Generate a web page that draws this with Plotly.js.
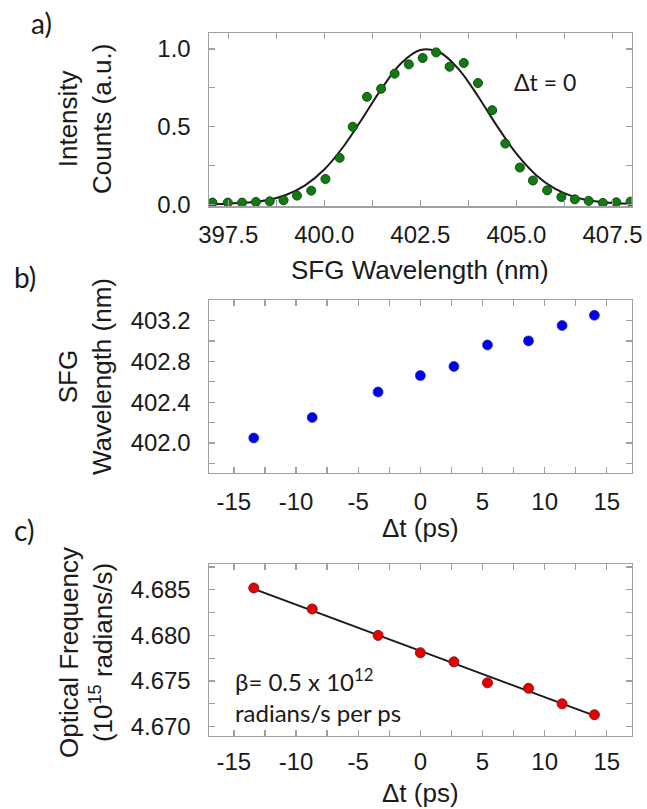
<!DOCTYPE html>
<html><head><meta charset="utf-8">
<script src="https://cdn.plot.ly/plotly-3.0.1.min.js"></script>
<style>html,body{margin:0;padding:0;background:#fff}#chart{width:647px;height:809px}</style>
</head><body><div id="chart"></div>
<script>
const specWavelength = [397.09,397.49,397.86,398.22,398.58,398.94,399.29,399.66,400.03,400.40,400.74,401.11,401.48,401.83,402.20,402.56,402.91,403.26,403.63,404.00,404.37,404.71,405.09,405.43,405.80,406.17,406.52,406.88,407.25,407.60,407.97];
const specIntensity  = [0.011,0.011,0.011,0.015,0.019,0.026,0.056,0.088,0.163,0.299,0.499,0.692,0.744,0.841,0.901,0.942,0.978,0.886,0.910,0.781,0.606,0.391,0.237,0.153,0.090,0.047,0.032,0.022,0.009,0.013,0.017];
// Panel a: fitted curve
const fitWavelength = [397.0,397.5,398.0,398.5,399.0,399.5,400.0,400.5,401.0,401.5,402.0,402.5,403.0,403.5,404.0,404.5,405.0,405.5,406.0,406.5,407.0,407.5,408.0];
const fitIntensity  = [0.001,0.004,0.011,0.026,0.060,0.122,0.224,0.372,0.556,0.748,0.908,0.993,0.979,0.869,0.696,0.502,0.326,0.191,0.101,0.048,0.021,0.008,0.003];
// Panels b and c
const delayPs = [-13.4,-8.7,-3.4,0.0,2.7,5.4,8.7,11.4,14.0];
const sfgWavelength = [402.05,402.25,402.50,402.66,402.75,402.96,403.00,403.15,403.25];
const opticalFreq = [4.6852,4.6829,4.6800,4.6781,4.6771,4.6748,4.6742,4.6725,4.6713];
const fitDelay = [-13.4,14.0];
const fitFreq = [4.6851,4.6712];
// Tick values and labels
const ticksA = [397.5,400.0,402.5,405.0,407.5];
const ticksDelay = [-15,-10,-5,0,5,10,15];
const ticksDelayText = ['-15','-10','-5','0','5','10','15'];

const W = 647, H = 809;
const xDom = [209/W, 631.7/W];
const dom = (top, bot) => [1 - bot/H, 1 - top/H];
const px = v => v/W, py = v => 1 - v/H;

const frame = '#a0a0a0';
const ink = '#1a1a1a';
const tickFont = {family:'Arial, "Liberation Sans", sans-serif', size:24, color:ink};
const titleFont = {family:'Arial, "Liberation Sans", sans-serif', size:26, color:ink};
const noteFont = s => ({family:'Lato, "Open Sans", sans-serif', size:s, color:ink});
function axis(extra){
  return Object.assign({showline:true, mirror:'ticks', linecolor:frame, linewidth:1.5,
    ticks:'inside', ticklen:6, tickwidth:1.3, tickcolor:frame, showgrid:false, zeroline:false,
    tickfont:tickFont}, extra);
}
function minor(d, t0){ const m = {ticks:'inside', ticklen:6, tickwidth:1.3, tickcolor:frame, dtick:d, showgrid:false}; if (t0 !== undefined) m.tick0 = t0; return m; }

const traces = [
  {x:fitWavelength, y:fitIntensity, xaxis:'x', yaxis:'y', mode:'lines', line:{color:ink, width:2, shape:'spline'}, hoverinfo:'skip'},
  {x:specWavelength, y:specIntensity, xaxis:'x', yaxis:'y', mode:'markers', marker:{color:'#137a13', size:9, line:{color:'#0b500b', width:1}}},
  {x:delayPs, y:sfgWavelength, xaxis:'x2', yaxis:'y2', mode:'markers', marker:{color:'#0000f0', size:10, line:{color:'#2020a0', width:0.6}}},
  {x:fitDelay, y:fitFreq, xaxis:'x3', yaxis:'y3', mode:'lines', line:{color:ink, width:1.8}},
  {x:delayPs, y:opticalFreq, xaxis:'x3', yaxis:'y3', mode:'markers', marker:{color:'#e60000', size:10, line:{color:'#8a1a1a', width:1}}}
];

const layout = {
  width:W, height:H, showlegend:false, paper_bgcolor:'#fff', plot_bgcolor:'#fff',
  margin:{l:0, r:0, t:0, b:0},
  xaxis: axis({domain:xDom, anchor:'y', range:[397.0,408.0], tickvals:ticksA, tickformat:'.1f', minor:minor(1.25), ticklabelstandoff:7}),
  yaxis: axis({domain:dom(33,206), anchor:'x', range:[-0.011,1.103], dtick:0.5, tick0:0, tickformat:'.1f', minor:minor(0.25), ticklabelstandoff:12}),
  xaxis2: axis({domain:xDom, anchor:'y2', range:[-17,17], tickvals:ticksDelay, ticktext:ticksDelayText, minor:minor(2.5), ticklabelstandoff:7}),
  yaxis2: axis({domain:dom(300,472.7), anchor:'x2', range:[401.71,403.40], dtick:0.4, tick0:402.0, tickformat:'.1f', minor:minor(0.2, 402.0), ticklabelstandoff:12}),
  xaxis3: axis({domain:xDom, anchor:'y3', range:[-17,17], tickvals:ticksDelay, ticktext:ticksDelayText, minor:minor(2.5), ticklabelstandoff:4}),
  yaxis3: axis({domain:dom(564.3,735.7), anchor:'x3', range:[4.6690,4.6878], dtick:0.005, tick0:4.670, tickformat:'.3f', minor:minor(0.0025, 4.670), ticklabelstandoff:12}),
  annotations: [
    // axis titles
    {xref:'paper', yref:'paper', x:px(420), y:py(270), text:'SFG Wavelength (nm)', showarrow:false, font:titleFont, xanchor:'center', yanchor:'middle'},
    {xref:'paper', yref:'paper', x:px(420), y:py(528), text:'Δt (ps)', showarrow:false, font:titleFont, xanchor:'center', yanchor:'middle'},
    {xref:'paper', yref:'paper', x:px(420), y:py(793), text:'Δt (ps)', showarrow:false, font:titleFont, xanchor:'center', yanchor:'middle'},
    {xref:'paper', yref:'paper', x:px(85), y:py(119), text:'Intensity<br>Counts (a.u.)', textangle:-90, showarrow:false, font:titleFont, xanchor:'center', yanchor:'middle'},
    {xref:'paper', yref:'paper', x:px(85), y:py(377), text:'SFG<br>Wavelength (nm)', textangle:-90, showarrow:false, font:titleFont, xanchor:'center', yanchor:'middle'},
    {xref:'paper', yref:'paper', x:px(86), y:py(653), text:'Optical Frequency<br>(10<sup>15</sup> radians/s)', textangle:-90, showarrow:false, font:titleFont, xanchor:'center', yanchor:'middle'},
    // panel labels
    {xref:'paper', yref:'paper', x:px(41), y:py(23), text:'a)', showarrow:false, font:noteFont(28), xanchor:'center', yanchor:'middle'},
    {xref:'paper', yref:'paper', x:px(25), y:py(277), text:'b)', showarrow:false, font:noteFont(28), xanchor:'center', yanchor:'middle'},
    {xref:'paper', yref:'paper', x:px(24), y:py(530), text:'c)', showarrow:false, font:noteFont(28), xanchor:'center', yanchor:'middle'},
    // in-plot notes
    {xref:'paper', yref:'paper', x:px(545), y:py(82), text:'Δt = 0', showarrow:false, font:noteFont(23), xanchor:'center', yanchor:'middle'},
    {xref:'paper', yref:'paper', x:px(233), y:py(695), text:'β= 0.5 x 10<sup>12</sup><br>radians/s per ps', align:'left', showarrow:false, font:noteFont(24), xanchor:'left', yanchor:'middle'}
  ]
};
Plotly.newPlot('chart', traces, layout, {displayModeBar:false, staticPlot:true});
</script></body></html>
